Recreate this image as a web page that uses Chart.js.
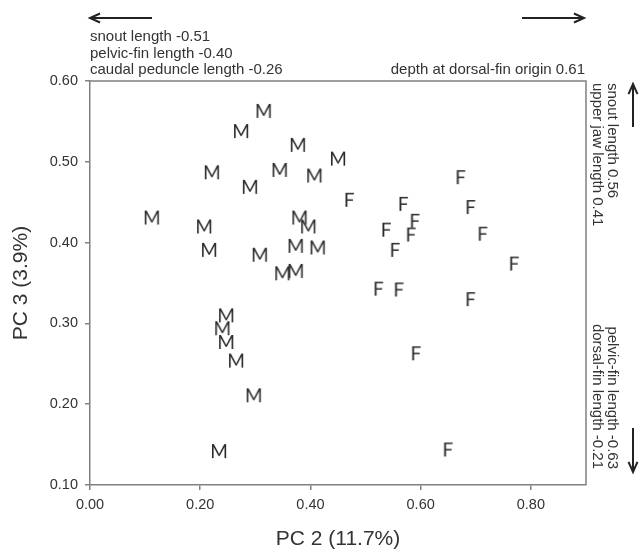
<!DOCTYPE html>
<html>
<head>
<meta charset="utf-8">
<script src="https://cdn.jsdelivr.net/npm/chart.js@4"></script>
<style>
  body { margin: 0; background: #fff; }
  #wrap { width: 641px; height: 550px; position: relative; }
</style>
</head>
<body>
<div id="wrap"><canvas id="pcaChart"></canvas></div>
<script>
/* DATA */
const maleX = [0.315, 0.274, 0.377, 0.450, 0.221, 0.344, 0.407, 0.290, 0.112, 0.207, 0.380, 0.396,
  0.216, 0.308, 0.373, 0.413, 0.349, 0.373, 0.247, 0.240, 0.247, 0.265, 0.297, 0.234];
const maleY = [0.563, 0.538, 0.521, 0.504, 0.487, 0.490, 0.483, 0.469, 0.431, 0.420, 0.431, 0.420,
  0.391, 0.385, 0.396, 0.394, 0.362, 0.365, 0.310, 0.294, 0.277, 0.254, 0.211, 0.142];

const femaleX = [0.672, 0.470, 0.568, 0.690, 0.589, 0.537, 0.582, 0.712, 0.553, 0.769, 0.523, 0.560,
  0.690, 0.591, 0.649];
const femaleY = [0.481, 0.453, 0.448, 0.444, 0.427, 0.416, 0.410, 0.411, 0.391, 0.374, 0.343, 0.342,
  0.330, 0.263, 0.144];

const xTicks = [0, 0.2, 0.4, 0.6, 0.8];
const yTicks = [0.1, 0.2, 0.3, 0.4, 0.5, 0.6];

const xTitle = 'PC 2 (11.7%)';
const yTitle = 'PC 3 (3.9%)';

const leftLoadings = ['snout length -0.51', 'pelvic-fin length -0.40', 'caudal peduncle length -0.26'];
const rightLoadings = ['depth at dorsal-fin origin 0.61'];
const upLoadings = ['snout length 0.56', 'upper jaw length 0.41'];
const downLoadings = ['pelvic-fin length -0.63', 'dorsal-fin length -0.21'];

/* LETTER MARKERS */
function letterMarker(letter) {
  const c = document.createElement('canvas');
  c.width = 26;
  c.height = 22;
  const g = c.getContext('2d');
  g.font = '19px Lato';
  g.fillStyle = '#2b2b2b';
  g.textAlign = 'center';
  g.textBaseline = 'alphabetic';
  g.fillText(letter, 13, 17.8);
  return c;
}

const toPoints = (xs, ys) => xs.map((x, i) => ({ x: x, y: ys[i] }));

const textColor = '#333';
const axisColor = '#808080';
const labelFont = '"Liberation Sans", Arial, sans-serif';

/* ANNOTATIONS */
function arrow(ctx, x1, y1, x2, y2) {
  const a = Math.atan2(y2 - y1, x2 - x1);
  ctx.beginPath();
  ctx.moveTo(x1, y1);
  ctx.lineTo(x2, y2);
  ctx.moveTo(x2 - 11 * Math.cos(a - 0.42), y2 - 11 * Math.sin(a - 0.42));
  ctx.lineTo(x2, y2);
  ctx.lineTo(x2 - 11 * Math.cos(a + 0.42), y2 - 11 * Math.sin(a + 0.42));
  ctx.stroke();
}

const extras = {
  id: 'extras',
  afterDraw(chart) {
    const ctx = chart.ctx;
    const a = chart.chartArea;
    ctx.save();

    // box round the plot
    ctx.strokeStyle = axisColor;
    ctx.lineWidth = 1.5;
    ctx.beginPath();
    ctx.moveTo(a.left, a.top);
    ctx.lineTo(a.right, a.top);
    ctx.lineTo(a.right, a.bottom);
    ctx.stroke();

    // arrows
    ctx.strokeStyle = '#222';
    ctx.lineWidth = 2;
    arrow(ctx, a.left + 62, 18, a.left, 18);
    arrow(ctx, a.right - 64, 18, a.right - 2, 18);
    arrow(ctx, a.right + 47, 127, a.right + 47, 84);
    arrow(ctx, a.right + 47, 428, a.right + 47, 472);

    // loading texts
    ctx.fillStyle = textColor;
    ctx.font = '15px ' + labelFont;
    ctx.textBaseline = 'alphabetic';
    ctx.textAlign = 'left';
    leftLoadings.forEach((t, i) => ctx.fillText(t, a.left, 41 + i * 16.5));
    ctx.textAlign = 'right';
    rightLoadings.forEach((t, i) => ctx.fillText(t, a.right - 1, 74 + i * 16.5));

    ctx.textBaseline = 'middle';
    upLoadings.forEach((t, i) => {
      ctx.save();
      ctx.translate(a.right + 26 - i * 15, 83);
      ctx.rotate(Math.PI / 2);
      ctx.textAlign = 'left';
      ctx.fillText(t, 0, 0);
      ctx.restore();
    });
    downLoadings.forEach((t, i) => {
      ctx.save();
      ctx.translate(a.right + 26 - i * 15, 469);
      ctx.rotate(Math.PI / 2);
      ctx.textAlign = 'right';
      ctx.fillText(t, 0, 0);
      ctx.restore();
    });
    ctx.restore();
  }
};

/* CHART */
const ctx = document.getElementById('pcaChart').getContext('2d');

const pcaChart = new Chart(ctx, {
  type: 'scatter',
  data: {
    datasets: [
      {
        label: 'M',
        data: toPoints(maleX, maleY),
        pointStyle: letterMarker('M'),
        pointRadius: 6,
        pointHoverRadius: 6
      },
      {
        label: 'F',
        data: toPoints(femaleX, femaleY),
        pointStyle: letterMarker('F'),
        pointRadius: 6,
        pointHoverRadius: 6
      }
    ]
  },
  options: {
    responsive: true,
    maintainAspectRatio: false,
    animation: false,
    layout: {
      padding: { top: 81, right: 55, left: 0, bottom: 0 }
    },
    plugins: {
      legend: { display: false },
      tooltip: { enabled: false }
    },
    scales: {
      x: {
        type: 'linear',
        min: 0,
        max: 0.9,
        afterBuildTicks: s => { s.ticks = xTicks.map(v => ({ value: v })); },
        afterFit: s => { s.height = 65; },
        grid: { drawOnChartArea: false, drawTicks: true, tickLength: 5, color: axisColor, lineWidth: 1.5 },
        border: { display: true, color: axisColor, width: 1.5 },
        ticks: {
          padding: 6,
          color: textColor,
          font: { family: labelFont, size: 14.5 },
          maxRotation: 0,
          callback: v => v.toFixed(2)
        },
        title: {
          display: true,
          text: xTitle,
          color: textColor,
          font: { family: labelFont, size: 21, lineHeight: 1 },
          padding: { top: 0, bottom: 0 }
        }
      },
      y: {
        type: 'linear',
        min: 0.1,
        max: 0.6,
        afterBuildTicks: s => { s.ticks = yTicks.map(v => ({ value: v })); },
        afterFit: s => { s.width = 90; },
        grid: { drawOnChartArea: false, drawTicks: true, tickLength: 5, color: axisColor, lineWidth: 1.5 },
        border: { display: true, color: axisColor, width: 1.5 },
        ticks: {
          padding: 7,
          color: textColor,
          font: { family: labelFont, size: 14.5 },
          callback: v => v.toFixed(2)
        },
        title: {
          display: true,
          text: yTitle,
          color: textColor,
          font: { family: labelFont, size: 21, lineHeight: 1 },
          padding: { top: 11, bottom: 0 }
        }
      }
    }
  },
  plugins: [extras]
});
</script>
</body>
</html>
